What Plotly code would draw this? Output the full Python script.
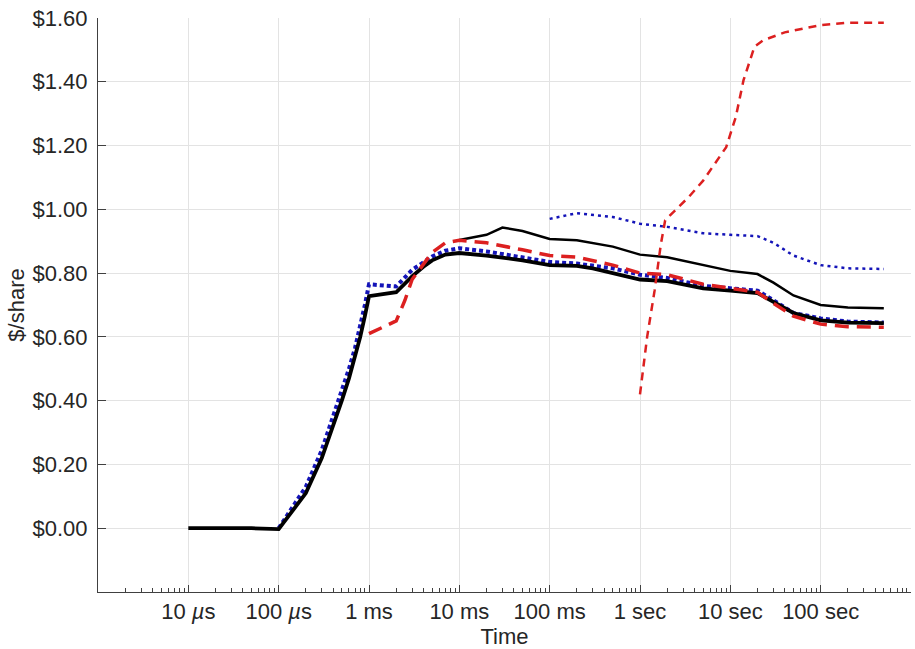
import plotly.graph_objects as go

# ---- data (time in seconds, value in $/share) ----
t_black = [1e-5, 2e-5, 5e-5, 1e-4, 2e-4, 3e-4, 4e-4, 5e-4, 6e-4, 7e-4, 8e-4, 9e-4,
           1e-3, 2e-3, 3e-3, 4e-3, 5e-3, 7e-3, 1e-2, 2e-2, 5e-2, 1e-1, 2e-1, 3e-1,
           5e-1, 1, 2, 3, 5, 10, 20, 30, 50, 100, 200, 500]
v_black = [0.0, 0.0, 0.0, -0.003, 0.11, 0.22, 0.32, 0.40, 0.47, 0.535, 0.60, 0.665,
           0.728, 0.74, 0.79, 0.82, 0.84, 0.858, 0.863, 0.855, 0.84, 0.825, 0.823, 0.815,
           0.80, 0.78, 0.775, 0.765, 0.752, 0.745, 0.737, 0.71, 0.675, 0.652, 0.645, 0.643]

t_blue = [1e-4, 2e-4, 3e-4, 4e-4, 5e-4, 6e-4, 7e-4, 8e-4, 9e-4, 1e-3, 2e-3, 3e-3,
          4e-3, 5e-3, 7e-3, 1e-2, 2e-2, 5e-2, 1e-1, 2e-1, 5e-1, 1, 2, 5, 10, 20,
          30, 50, 100, 200, 500]
v_blue = [0.0, 0.13, 0.245, 0.35, 0.43, 0.50, 0.565, 0.63, 0.70, 0.765, 0.758, 0.81,
          0.835, 0.852, 0.87, 0.878, 0.868, 0.85, 0.835, 0.83, 0.815, 0.795, 0.785, 0.76,
          0.753, 0.745, 0.715, 0.675, 0.658, 0.648, 0.645]

t_red = [1e-3, 2e-3, 2.5e-3, 3e-3, 5e-3, 7e-3, 1e-2, 2e-2, 5e-2, 1e-1, 2e-1, 5e-1,
         1, 2, 5, 10, 20, 30, 50, 100, 200, 500]
v_red = [0.61, 0.65, 0.715, 0.78, 0.865, 0.895, 0.903, 0.895, 0.873, 0.855, 0.85, 0.825,
         0.80, 0.795, 0.765, 0.753, 0.74, 0.705, 0.665, 0.64, 0.632, 0.63]

t_black_thin = [1e-2, 2e-2, 3e-2, 5e-2, 1e-1, 2e-1, 5e-1, 1, 2, 5, 10, 20, 30, 50,
                100, 200, 500]
v_black_thin = [0.904, 0.92, 0.943, 0.932, 0.907, 0.903, 0.883, 0.858, 0.85, 0.825,
                0.807, 0.797, 0.77, 0.73, 0.70, 0.692, 0.69]

t_blue_thin = [0.1, 0.2, 0.5, 1, 2, 5, 10, 20, 30, 50, 100, 200, 500]
v_blue_thin = [0.97, 0.988, 0.976, 0.955, 0.945, 0.925, 0.92, 0.916, 0.895, 0.855,
               0.825, 0.815, 0.813]

t_red_thin = [1, 1.2, 1.45, 1.7, 1.9, 2.5, 3.5, 5, 9, 11.5, 14, 18.5, 23, 40, 100,
              200, 500]
v_red_thin = [0.42, 0.60, 0.745, 0.89, 0.966, 1.0, 1.04, 1.09, 1.195, 1.29, 1.405,
              1.51, 1.53, 1.555, 1.578, 1.585, 1.585]

x_tickvals = [1e-5, 1e-4, 1e-3, 1e-2, 1e-1, 1, 10, 100]
x_ticktext = ["10 <i>µ</i>s", "100 <i>µ</i>s", "1 ms", "10 ms", "100 ms",
              "1 sec", "10 sec", "100 sec"]
y_tickvals = [0.0, 0.2, 0.4, 0.6, 0.8, 1.0, 1.2, 1.4, 1.6]
y_ticktext = ["$%.2f" % v for v in y_tickvals]

BLACK = "#000000"
BLUE = "#1414b8"
RED = "#dc2020"

fig = go.Figure()
fig.add_trace(go.Scatter(x=t_black_thin, y=v_black_thin, mode="lines",
                         line=dict(color=BLACK, width=2.5)))
fig.add_trace(go.Scatter(x=t_blue_thin, y=v_blue_thin, mode="lines",
                         line=dict(color=BLUE, width=2.5, dash="3px,4px")))
fig.add_trace(go.Scatter(x=t_blue, y=v_blue, mode="lines",
                         line=dict(color=BLUE, width=4, dash="4px,3px")))
fig.add_trace(go.Scatter(x=t_black, y=v_black, mode="lines",
                         line=dict(color=BLACK, width=3.8)))
fig.add_trace(go.Scatter(x=t_red, y=v_red, mode="lines",
                         line=dict(color=RED, width=3.5, dash="14px,8px")))
fig.add_trace(go.Scatter(x=t_red_thin, y=v_red_thin, mode="lines",
                         line=dict(color=RED, width=2.5, dash="8px,6px")))

axis_col = "#404040"
font_fam = "Liberation Sans, Arial, Helvetica, sans-serif"

fig.update_layout(
    width=915, height=649,
    margin=dict(l=98, r=4, t=18, b=57),
    paper_bgcolor="white", plot_bgcolor="white",
    showlegend=False,
    font=dict(family=font_fam, size=22, color="#262626"),
    xaxis=dict(
        type="log", range=[-6, 3],
        tickvals=x_tickvals, ticktext=x_ticktext,
        ticks="inside", ticklen=7, tickcolor=axis_col, tickwidth=1,
        showline=True, linecolor=axis_col, linewidth=1,
        showgrid=True, gridcolor="#e3e3e3", gridwidth=1,
        zeroline=False,
        minor=dict(ticks="inside", ticklen=4, tickcolor=axis_col, dtick="D1",
                   showgrid=False),
        title=dict(text="Time", font=dict(size=22), standoff=1),
        tickfont=dict(size=22),
    ),
    yaxis=dict(
        range=[-0.2, 1.6],
        tickvals=y_tickvals, ticktext=y_ticktext,
        ticks="inside", ticklen=8, tickcolor=axis_col, tickwidth=1,
        showline=True, linecolor=axis_col, linewidth=1,
        showgrid=True, gridcolor="#e3e3e3", gridwidth=1,
        zeroline=False,
        title=dict(text="$/share", font=dict(size=22), standoff=1),
        tickfont=dict(size=22),
        ticklabelstandoff=5,
    ),
)

fig.write_html("out.html")
